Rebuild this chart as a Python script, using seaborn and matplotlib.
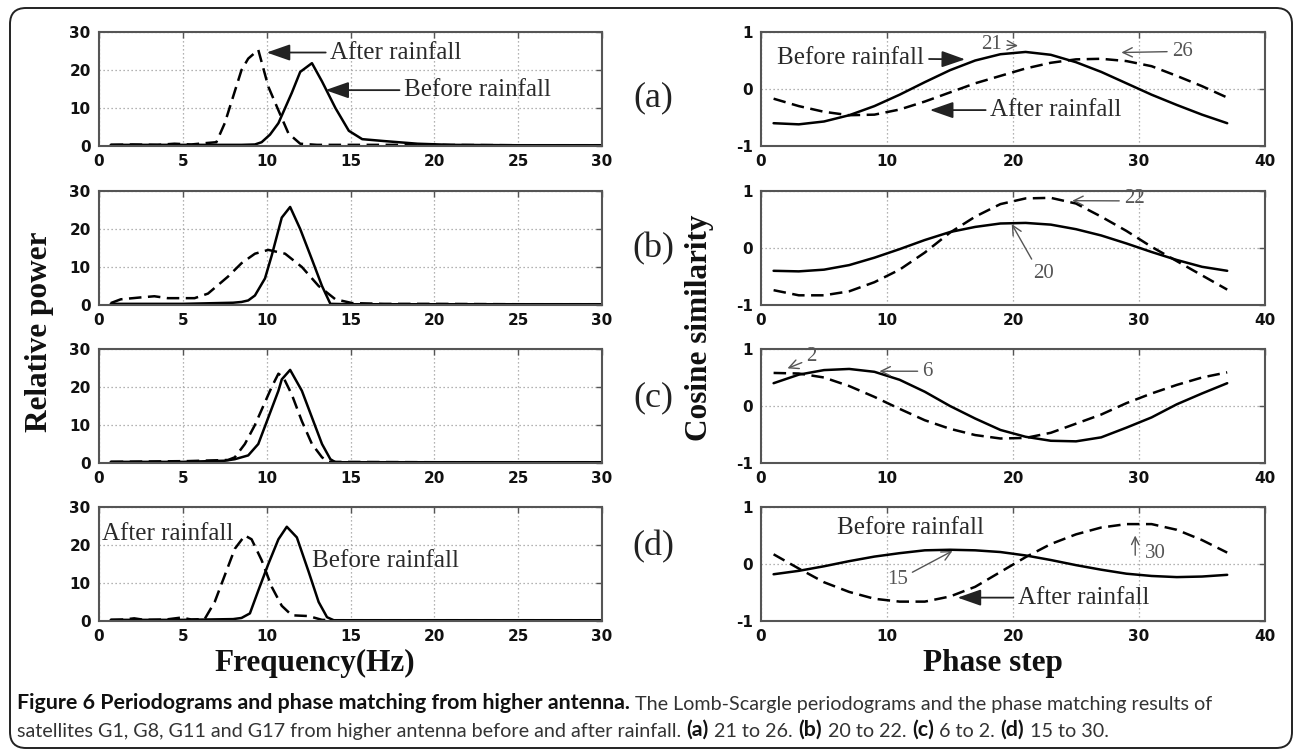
import numpy as np
import pandas as pd
import matplotlib
matplotlib.use("Agg")
import matplotlib.pyplot as plt
import seaborn as sns
from matplotlib.patches import FancyBboxPatch

# ---------------- data: periodograms (left column) ----------------
a_before_x = [0.7, 3, 6, 8.5, 9.3, 9.7, 10.2, 10.7, 11.1, 11.5, 12.0, 12.7, 13.3, 14.1, 14.9, 15.7, 17.0, 19.0, 21.0, 25.0, 30.0]
a_before_y = [0.3, 0.3, 0.3, 0.3, 0.4, 1.0, 3.0, 6.0, 10.0, 14.0, 19.5, 21.8, 17.0, 10.0, 4.0, 1.8, 1.3, 0.6, 0.3, 0.2, 0.2]
a_after_x = [0.7, 2, 3.5, 4.5, 5.5, 6.2, 7.0, 7.5, 8.0, 8.5, 8.9, 9.5, 10.1, 10.7, 11.3, 12.0, 13, 16, 20, 25, 30]
a_after_y = [0.3, 0.4, 0.3, 0.6, 0.4, 0.7, 1.0, 6.0, 13.0, 20.0, 23.0, 25.3, 15.6, 9.4, 3.3, 0.6, 0.3, 0.3, 0.3, 0.2, 0.2]

b_before_x = [0.7, 5, 8.0, 8.5, 8.9, 9.3, 9.9, 10.3, 10.9, 11.4, 12.0, 12.7, 13.3, 13.8, 15, 20, 25, 30]
b_before_y = [0.3, 0.3, 0.6, 0.8, 1.2, 2.5, 7.0, 13.0, 23.0, 25.8, 20.0, 12.0, 5.0, 0.3, 0.2, 0.2, 0.2, 0.2]
b_after_x = [0.7, 1.3, 2.5, 3.3, 4.1, 5.7, 6.5, 7.7, 8.5, 9.3, 10.1, 11.1, 12.1, 13.1, 14.1, 15.1, 17, 20, 25, 30]
b_after_y = [0.5, 1.5, 2.0, 2.3, 1.8, 1.8, 3.0, 7.5, 11.0, 13.5, 14.5, 13.5, 10.0, 5.0, 1.5, 0.5, 0.3, 0.3, 0.2, 0.2]

c_before_x = [0.7, 5, 7.5, 8.1, 8.9, 9.5, 10.1, 10.7, 10.9, 11.4, 12.1, 12.7, 13.3, 13.8, 14.1, 20, 30]
c_before_y = [0.3, 0.3, 0.6, 1.0, 2.0, 5.0, 12.0, 19.0, 22.0, 24.5, 19.0, 12.0, 5.0, 1.0, 0.2, 0.2, 0.2]
c_after_x = [0.7, 5.3, 7.7, 8.1, 8.7, 9.3, 9.9, 10.3, 10.7, 11.0, 11.5, 12.1, 12.7, 13.3, 13.7, 20, 30]
c_after_y = [0.3, 0.5, 0.8, 1.5, 5.0, 10.0, 16.0, 20.0, 23.5, 22.5, 18.0, 11.0, 5.0, 1.5, 0.3, 0.2, 0.2]

d_before_x = [0.7, 5, 8.0, 8.5, 9.0, 9.5, 10.1, 10.7, 11.2, 11.8, 12.5, 13.1, 13.6, 14.0, 20, 30]
d_before_y = [0.3, 0.3, 0.5, 0.8, 2.0, 8.0, 15.0, 21.5, 24.8, 22.0, 13.0, 5.0, 1.0, 0.2, 0.2, 0.2]
d_after_x = [0.7, 1.5, 2.1, 2.7, 4.0, 4.9, 5.5, 6.3, 6.9, 7.5, 8.1, 8.7, 9.1, 9.7, 10.3, 10.9, 11.5, 12.5, 13.3, 14, 20, 30]
d_after_y = [0.3, 0.4, 0.7, 0.3, 0.4, 0.9, 0.4, 0.5, 5.0, 12.0, 19.0, 22.5, 21.5, 16.0, 9.0, 4.0, 1.5, 1.3, 0.3, 0.2, 0.2, 0.2]

# ---------------- data: phase matching (right column) ----------------
phase_step = [1, 3, 5, 7, 9, 11, 13, 15, 17, 19, 21, 23, 25, 27, 29, 31, 33, 35, 37]
a_cos_before = [-0.60, -0.62, -0.57, -0.46, -0.30, -0.10, 0.12, 0.33, 0.50, 0.61, 0.65, 0.60, 0.47, 0.30, 0.10, -0.10, -0.28, -0.45, -0.60]
a_cos_after = [-0.17, -0.30, -0.40, -0.46, -0.45, -0.36, -0.22, -0.06, 0.10, 0.23, 0.36, 0.46, 0.52, 0.53, 0.49, 0.40, 0.23, 0.05, -0.15]
b_cos_before = [-0.40, -0.41, -0.38, -0.30, -0.17, -0.02, 0.14, 0.28, 0.37, 0.43, 0.44, 0.41, 0.33, 0.22, 0.08, -0.07, -0.21, -0.33, -0.40]
b_cos_after = [-0.74, -0.83, -0.83, -0.76, -0.60, -0.38, -0.08, 0.27, 0.55, 0.77, 0.87, 0.88, 0.78, 0.55, 0.30, 0.02, -0.23, -0.48, -0.73]
c_cos_before = [0.40, 0.55, 0.63, 0.65, 0.60, 0.46, 0.25, 0.00, -0.22, -0.42, -0.54, -0.61, -0.62, -0.55, -0.38, -0.20, 0.03, 0.22, 0.40]
c_cos_after = [0.58, 0.57, 0.50, 0.35, 0.16, -0.05, -0.25, -0.40, -0.51, -0.57, -0.56, -0.47, -0.31, -0.15, 0.05, 0.22, 0.37, 0.50, 0.59]
d_cos_before = [-0.18, -0.12, -0.04, 0.05, 0.13, 0.19, 0.24, 0.25, 0.24, 0.21, 0.15, 0.07, -0.02, -0.10, -0.17, -0.21, -0.23, -0.22, -0.19]
d_cos_after = [0.17, -0.08, -0.32, -0.49, -0.61, -0.66, -0.66, -0.57, -0.40, -0.14, 0.12, 0.35, 0.52, 0.64, 0.70, 0.70, 0.60, 0.42, 0.20]

# ---------------- ticks / labels ----------------
freq_ticks = [0, 5, 10, 15, 20, 25, 30]
power_ticks = [0, 10, 20, 30]
phase_ticks = [0, 10, 20, 30, 40]
cos_ticks = [-1, 0, 1]
freq_ticklabels = ["0", "5", "10", "15", "20", "25", "30"]
power_ticklabels = ["0", "10", "20", "30"]
phase_ticklabels = ["0", "10", "20", "30", "40"]
cos_ticklabels = ["-1", "0", "1"]
panel_labels = ["(a)", "(b)", "(c)", "(d)"]
xlabel_left = "Frequency(Hz)"
xlabel_right = "Phase step"
ylabel_left = "Relative power"
ylabel_right = "Cosine similarity"
caption1_bold = "Figure 6 Periodograms and phase matching from higher antenna."
caption1_reg = "The Lomb-Scargle periodograms and the phase matching results of"
caption2_parts = [("satellites G1, G8, G11 and G17 from higher antenna before and after rainfall.", "normal"),
                  ("(a)", "bold"), ("21 to 26.", "normal"),
                  ("(b)", "bold"), ("20 to 22.", "normal"),
                  ("(c)", "bold"), ("6 to 2.", "normal"),
                  ("(d)", "bold"), ("15 to 30.", "normal")]

freq_sets = [(a_before_x, a_before_y, a_after_x, a_after_y),
             (b_before_x, b_before_y, b_after_x, b_after_y),
             (c_before_x, c_before_y, c_after_x, c_after_y),
             (d_before_x, d_before_y, d_after_x, d_after_y)]
cos_sets = [(a_cos_before, a_cos_after), (b_cos_before, b_cos_after),
            (c_cos_before, c_cos_after), (d_cos_before, d_cos_after)]

# ---------------- style ----------------
sns.set_theme(style="white")
plt.rcParams['font.family'] = ['DejaVu Sans']
SERIF = 'Liberation Serif'
W, H = 1295, 752

fig = plt.figure(figsize=(W / 100, H / 100), dpi=100)
fig.patch.set_facecolor('white')

bg = fig.add_axes([0, 0, 1, 1])
bg.set_xlim(0, W)
bg.set_ylim(H, 0)
bg.axis('off')

box = FancyBboxPatch((0.10, 0.04), 12.82, 7.40, boxstyle="round,pad=0,rounding_size=0.16",
                     transform=fig.dpi_scale_trans, facecolor='none', edgecolor='#222', linewidth=1.4)
fig.add_artist(box)

left_x0, left_w = 99 / W, 503 / W
right_x0, right_w = 761 / W, 504 / W
row_tops = [32, 191, 349, 507]
row_h = 114

dash = (0, (5, 2.6))


def style_axes(ax, xlim, ylim, xt, xtl, yt, ytl):
    ax.set_xlim(xlim)
    ax.set_ylim(ylim)
    ax.set_xticks(xt)
    ax.set_xticklabels(xtl, fontweight='bold', fontsize=11, color='#111')
    ax.set_yticks(yt)
    ax.set_yticklabels(ytl, fontweight='bold', fontsize=11, color='#111')
    ax.grid(True, linestyle=(0, (1, 2.2)), color='#9a9a9a', linewidth=0.9)
    ax.tick_params(direction='in', length=4, width=1, color='#555', top=True, right=True, pad=6)
    for s in ax.spines.values():
        s.set_visible(True)
        s.set_color('#555')
        s.set_linewidth(1.5)
    ax.set_xlabel('')
    ax.set_ylabel('')


axes_left, axes_right = [], []
for i in range(4):
    bottom = 1 - (row_tops[i] + row_h) / H
    axl = fig.add_axes([left_x0, bottom, left_w, row_h / H])
    bx, by, ax_, ay = freq_sets[i]
    sns.lineplot(x=bx, y=by, ax=axl, color='black', linewidth=1.8, linestyle='-')
    sns.lineplot(x=ax_, y=ay, ax=axl, color='black', linewidth=1.8, linestyle=dash)
    style_axes(axl, (0, 30), (0, 30), freq_ticks, freq_ticklabels, power_ticks, power_ticklabels)
    axes_left.append(axl)

    axr = fig.add_axes([right_x0, bottom, right_w, row_h / H])
    cb, ca = cos_sets[i]
    sns.lineplot(x=phase_step, y=cb, ax=axr, color='black', linewidth=1.8, linestyle='-')
    sns.lineplot(x=phase_step, y=ca, ax=axr, color='black', linewidth=1.8, linestyle=dash)
    style_axes(axr, (0, 40), (-1, 1), phase_ticks, phase_ticklabels, cos_ticks, cos_ticklabels)
    axes_right.append(axr)

# ---------------- annotations ----------------
big = dict(fontsize=18, family=SERIF, color='#2a2a2a', va='center', ha='left')
num = dict(fontsize=15, family=SERIF, color='#555', va='center', ha='left')
fill_arrow = dict(arrowstyle='-|>,head_length=0.8,head_width=0.28', color='#222', lw=1.3,
                  shrinkA=1, shrinkB=0)
thin_arrow = dict(arrowstyle='->,head_length=0.45,head_width=0.22', color='#555', lw=1.0,
                  shrinkA=1, shrinkB=0)

al, bl, cl, dl = axes_left
ar, br, cr, dr = axes_right

al.annotate("After rainfall", xy=(10.0, 24.6), xytext=(13.8, 24.6), arrowprops=fill_arrow, **big)
al.annotate("Before rainfall", xy=(13.5, 14.7), xytext=(18.2, 14.7), arrowprops=fill_arrow, **big)
dl.text(0.2, 22.9, "After rainfall", **big)
dl.text(12.7, 15.8, "Before rainfall", **big)

ar.annotate("Before rainfall", xy=(16.2, 0.52), xytext=(1.3, 0.54), arrowprops=fill_arrow, **big)
ar.annotate("After rainfall", xy=(13.4, -0.37), xytext=(18.2, -0.37), arrowprops=fill_arrow, **big)
ar.annotate("21", xy=(20.4, 0.76), xytext=(17.5, 0.78), arrowprops=thin_arrow, **num)
ar.annotate("26", xy=(28.6, 0.64), xytext=(32.6, 0.66), arrowprops=thin_arrow, **num)

br.annotate("22", xy=(24.7, 0.83), xytext=(28.8, 0.86),
            arrowprops=dict(thin_arrow, relpos=(0, 0.4)), **num)
br.annotate("20", xy=(19.9, 0.42), xytext=(21.6, -0.44),
            arrowprops=dict(thin_arrow, relpos=(0.05, 1.0)), **num)

cr.annotate("2", xy=(2.1, 0.66), xytext=(3.6, 0.86),
            arrowprops=dict(thin_arrow, relpos=(0, 0.3)), **num)
cr.annotate("6", xy=(9.4, 0.61), xytext=(12.8, 0.61), arrowprops=thin_arrow, **num)

dr.text(6.0, 0.63, "Before rainfall", **big)
dr.annotate("After rainfall", xy=(15.6, -0.59), xytext=(20.4, -0.59), arrowprops=fill_arrow, **big)
dr.annotate("15", xy=(15.2, 0.23), xytext=(10.0, -0.27),
            arrowprops=dict(thin_arrow, relpos=(1.0, 0.75)), **num)
dr.text(30.5, 0.19, "30", **num)
dr.annotate("", xy=(29.7, 0.50), xytext=(29.7, 0.13), arrowprops=thin_arrow)

# ---------------- panel labels & axis labels ----------------
for lab, yc in zip(panel_labels, [98, 249, 398, 547]):
    bg.text(653, yc, lab, fontsize=26, family=SERIF, color='#222', ha='center', va='center')

lab_kw = dict(fontsize=22.5, family=SERIF, fontweight='bold', color='#111', ha='center', va='center')
bg.text(40, 332, ylabel_left, rotation=90, **lab_kw)
bg.text(700, 328, ylabel_right, rotation=90, **lab_kw)
bg.text(315, 663, xlabel_left, **lab_kw)
bg.text(993, 663, xlabel_right, **lab_kw)

# ---------------- caption ----------------
CAP = 'Lato'
cap_fs = 14.2
cap_fs_bold = 15.4
t = bg.text(17, 709, caption1_bold, fontsize=cap_fs_bold, family=CAP, fontweight='bold',
            color='#111', ha='left', va='baseline')
fig.canvas.draw()
bg.annotate(caption1_reg, xy=(1, 0), xycoords=t, xytext=(4, 0), textcoords='offset points',
            fontsize=cap_fs, family=CAP, color='#333', ha='left', va='bottom')
prev = bg.text(17, 737, caption2_parts[0][0], fontsize=cap_fs, family=CAP, color='#333',
               ha='left', va='baseline')
for txt, wt in caption2_parts[1:]:
    prev = bg.annotate(txt, xy=(1, 0), xycoords=prev, xytext=(4, 0), textcoords='offset points',
                       fontsize=cap_fs_bold if wt == 'bold' else cap_fs, family=CAP, fontweight=wt,
                       color='#111' if wt == 'bold' else '#333', ha='left', va='bottom')

fig.savefig("out.png", dpi=100)
